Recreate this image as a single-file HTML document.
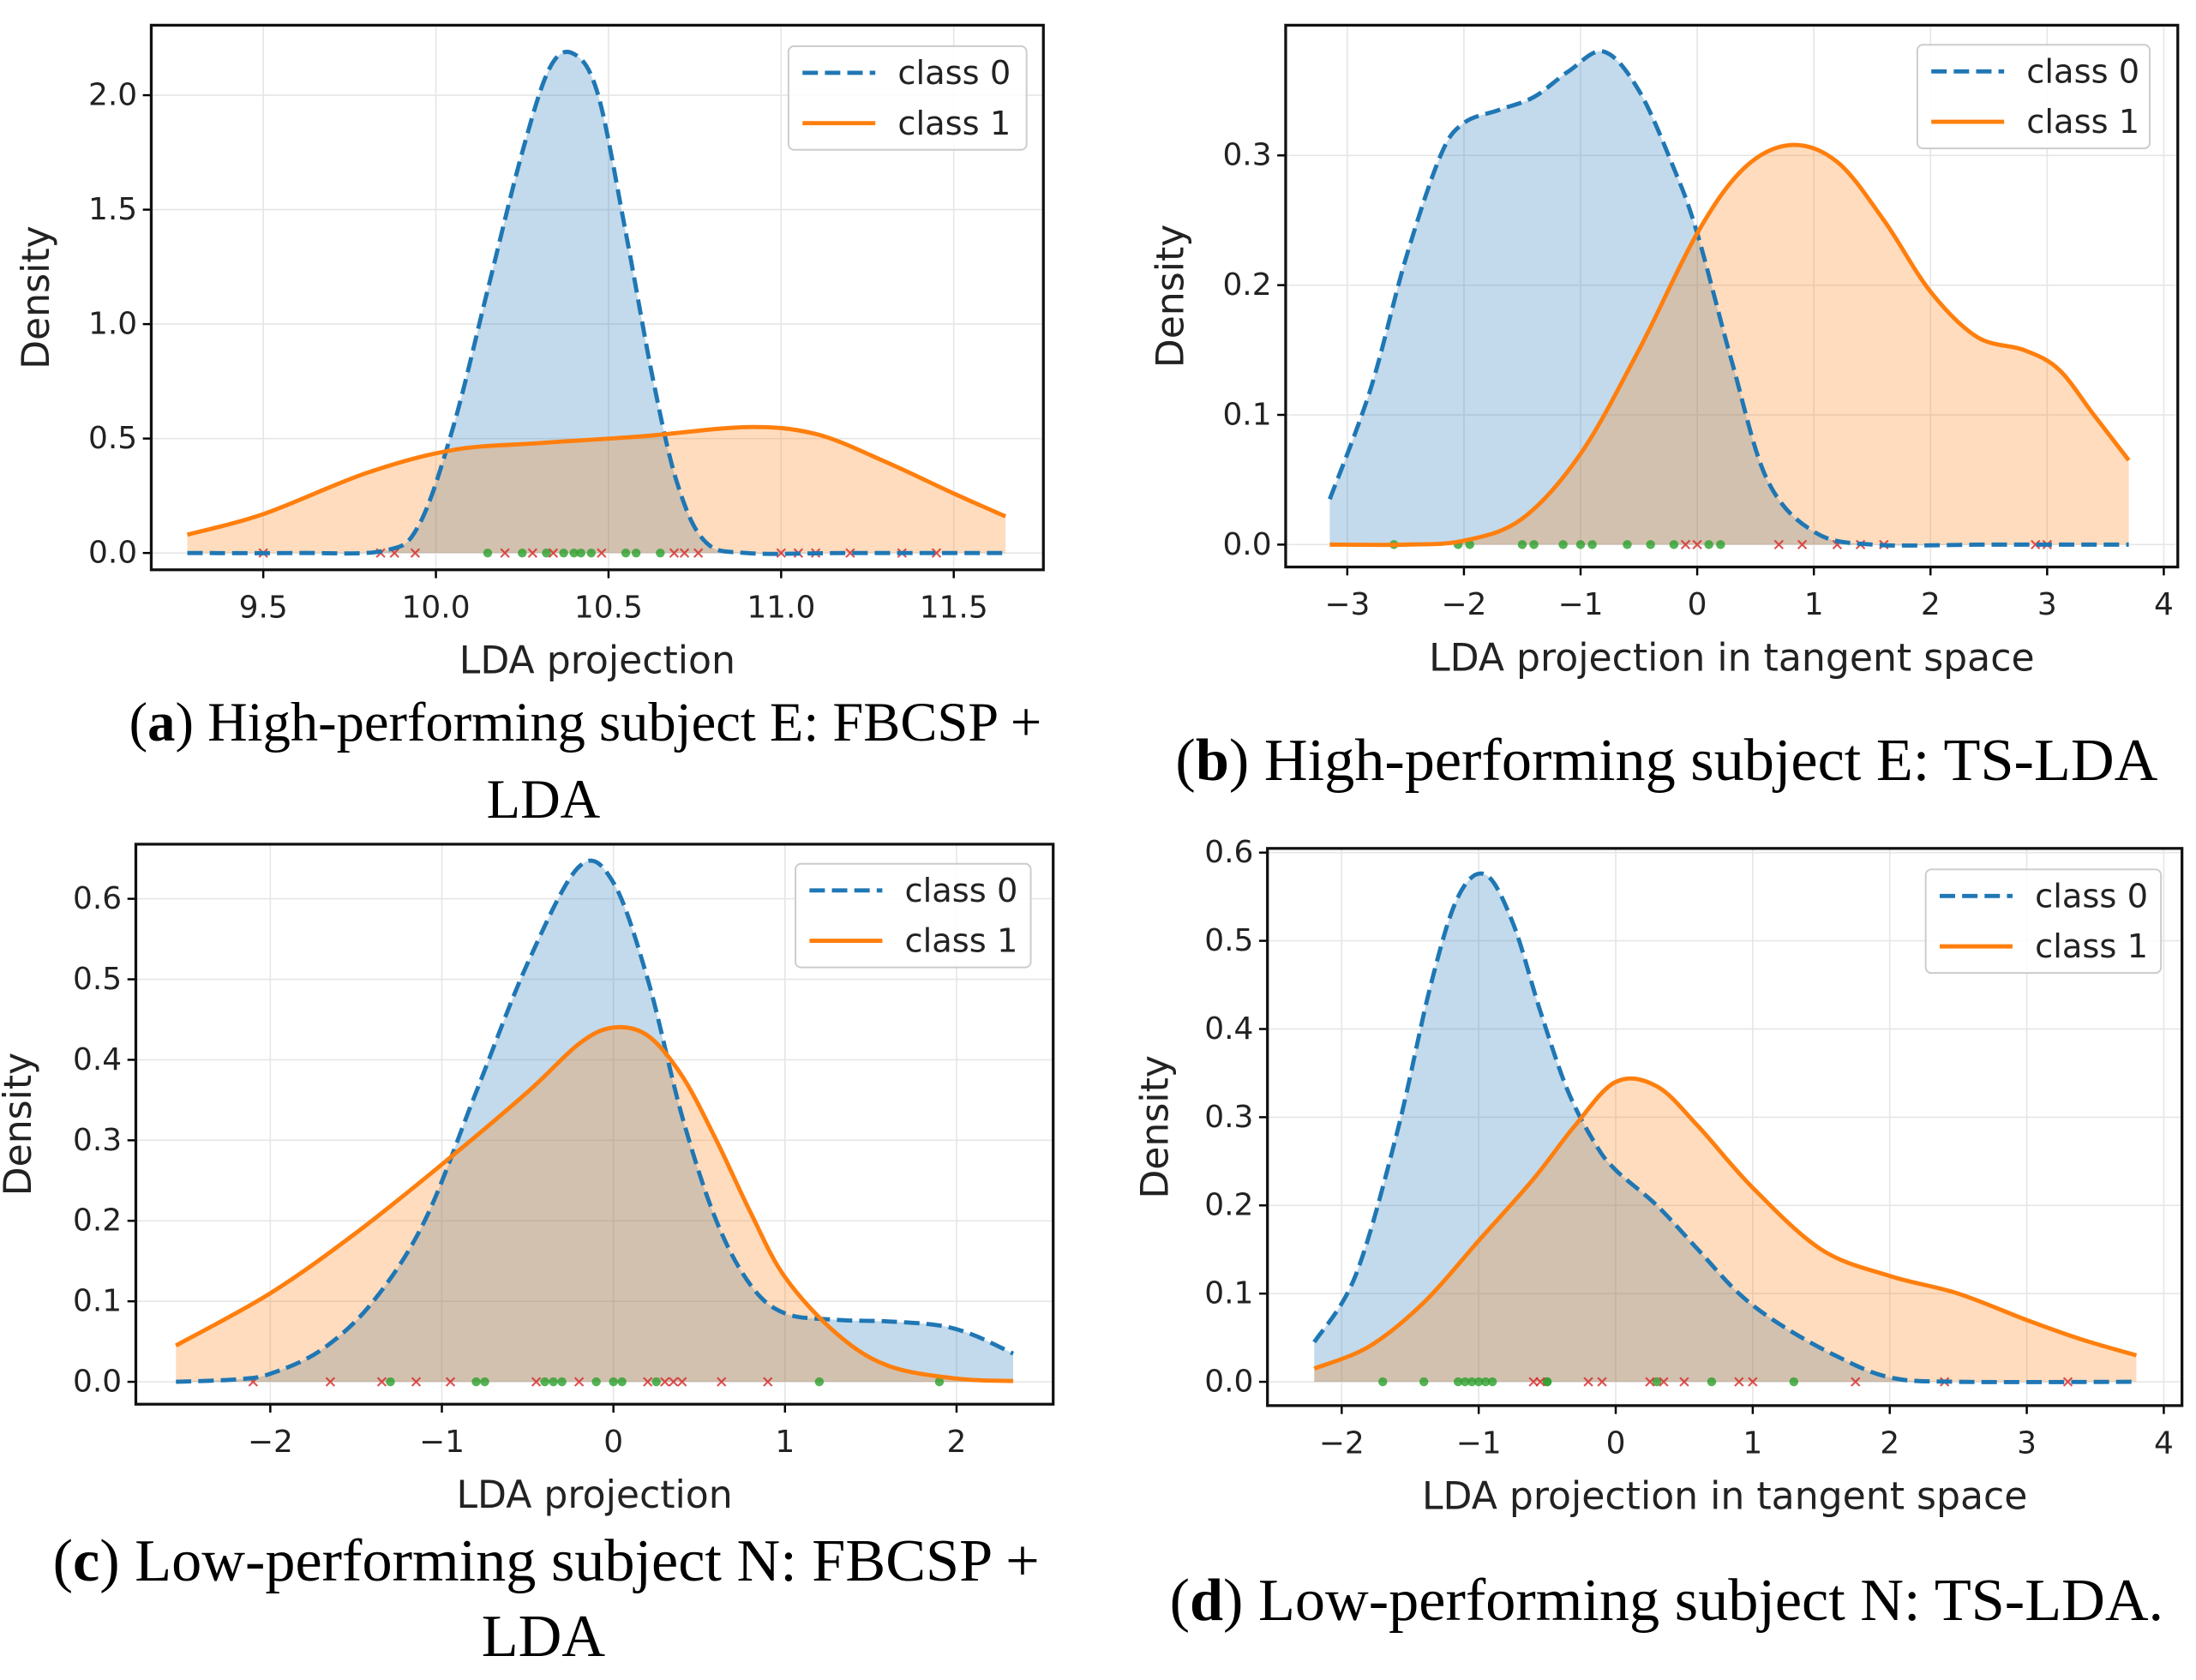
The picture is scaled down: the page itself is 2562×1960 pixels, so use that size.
<!DOCTYPE html>
<html><head><meta charset="utf-8"><style>
html,body{margin:0;padding:0;background:#fff;}
svg{display:block;}
text{font-family:"DejaVu Sans","Liberation Sans",sans-serif;fill:#222;}
.cap{font-family:"Liberation Serif",serif;font-size:39.5px;fill:#000;}
.capw{font-size:43px;}
</style></head><body>
<svg id="fig" width="2562" height="1960" viewBox="0 0 1568 1200" preserveAspectRatio="none" xmlns="http://www.w3.org/2000/svg">
<text class="cap" x="418" y="529" text-anchor="middle">(<tspan font-weight="bold">a</tspan>) High-performing subject E: FBCSP +</text>
<text class="cap" x="388" y="584" text-anchor="middle">LDA</text>
<text class="cap capw" x="1190" y="557" text-anchor="middle">(<tspan font-weight="bold">b</tspan>) High-performing subject E: TS-LDA</text>
<text class="cap capw" x="390" y="1129" text-anchor="middle">(<tspan font-weight="bold">c</tspan>) Low-performing subject N: FBCSP +</text>
<text class="cap capw" x="388" y="1183" text-anchor="middle">LDA</text>
<text class="cap capw" x="1190" y="1157" text-anchor="middle">(<tspan font-weight="bold">d</tspan>) Low-performing subject N: TS-LDA.</text>
</svg>
<script>
// Panel A data
const aX0=[9.28,9.6,9.85,9.95,10.05,10.15,10.25,10.33,10.4,10.47,10.55,10.63,10.7,10.78,10.9,11.2,11.65];
const aY0=[0,0,0.01,0.12,0.55,1.15,1.75,2.12,2.18,2.0,1.4,0.75,0.3,0.05,0,0,0];
const aX1=[9.28,9.5,9.8,10.05,10.3,10.6,10.9,11.1,11.3,11.5,11.65];
const aY1=[0.08,0.17,0.35,0.45,0.48,0.51,0.55,0.52,0.4,0.26,0.16];
const aGreen=[10.15,10.25,10.32,10.37,10.4,10.42,10.45,10.55,10.58,10.65];
const aRed=[9.5,9.84,9.88,9.94,10.2,10.28,10.34,10.48,10.69,10.72,10.76,11.0,11.05,11.1,11.2,11.35,11.45];
const aXT=[9.5,10.0,10.5,11.0,11.5], aXL=["9.5","10.0","10.5","11.0","11.5"];
const aYT=[0,0.5,1,1.5,2], aYL=["0.0","0.5","1.0","1.5","2.0"];
// Panel B data
const bX0=[-3.15,-2.8,-2.5,-2.2,-2,-1.7,-1.4,-1.1,-0.8,-0.5,-0.2,0,0.3,0.6,1,1.5,2.5,3.7];
const bY0=[0.035,0.12,0.22,0.3,0.325,0.335,0.345,0.365,0.38,0.35,0.29,0.24,0.14,0.05,0.01,0,0,0];
const bX1=[-3.15,-2.5,-2,-1.5,-1,-0.5,0,0.4,0.8,1.2,1.6,2,2.4,2.8,3.1,3.4,3.7];
const bY1=[0,0,0.003,0.02,0.07,0.15,0.24,0.29,0.308,0.295,0.25,0.195,0.16,0.15,0.135,0.1,0.065];
const bGreen=[-2.6,-2.05,-1.95,-1.5,-1.4,-1.15,-1.0,-0.9,-0.6,-0.4,-0.2,0.1,0.2];
const bRed=[-0.1,0,0.7,0.9,1.2,1.4,1.6,2.9,3.0];
const bXT=[-3,-2,-1,0,1,2,3,4], bXL=["\u22123","\u22122","\u22121","0","1","2","3","4"];
const bYT=[0,0.1,0.2,0.3], bYL=["0.0","0.1","0.2","0.3"];
// Panel C data
const cX0=[-2.55,-2.2,-2,-1.7,-1.4,-1.1,-0.8,-0.5,-0.2,0,0.2,0.4,0.6,0.8,1,1.3,1.6,1.9,2.1,2.33];
const cY0=[0,0.003,0.01,0.04,0.1,0.2,0.36,0.52,0.64,0.62,0.5,0.33,0.2,0.12,0.085,0.077,0.075,0.07,0.058,0.035];
const cX1=[-2.55,-2,-1.5,-1,-0.5,-0.2,0,0.2,0.4,0.6,0.8,1,1.3,1.6,2,2.33];
const cY1=[0.045,0.11,0.185,0.27,0.36,0.42,0.44,0.43,0.38,0.3,0.21,0.13,0.06,0.02,0.004,0.001];
const cGreen=[-1.3,-0.8,-0.75,-0.4,-0.35,-0.3,-0.1,0,0.05,0.25,1.2,1.9];
const cRed=[-2.1,-1.65,-1.35,-1.15,-0.95,-0.45,-0.2,0.2,0.3,0.35,0.4,0.63,0.9];
const cXT=[-2,-1,0,1,2], cXL=["\u22122","\u22121","0","1","2"];
const cYT=[0,0.1,0.2,0.3,0.4,0.5,0.6], cYL=["0.0","0.1","0.2","0.3","0.4","0.5","0.6"];
// Panel D data
const dX0=[-2.2,-1.9,-1.6,-1.35,-1.15,-0.95,-0.75,-0.55,-0.35,-0.15,0,0.3,0.6,0.9,1.2,1.6,2,2.5,3.8];
const dY0=[0.045,0.12,0.28,0.45,0.55,0.575,0.52,0.42,0.33,0.27,0.24,0.2,0.15,0.1,0.065,0.03,0.005,0,0];
const dX1=[-2.2,-1.8,-1.4,-1,-0.6,-0.3,0,0.3,0.6,1,1.5,2,2.5,3,3.4,3.8];
const dY1=[0.015,0.04,0.09,0.16,0.23,0.29,0.34,0.335,0.29,0.22,0.15,0.12,0.1,0.07,0.048,0.03];
const dGreen=[-1.7,-1.4,-1.15,-1.1,-1.05,-1.0,-0.95,-0.9,-0.5,-0.5,0.3,0.7,1.3];
const dRed=[-0.6,-0.55,-0.2,-0.1,0.25,0.35,0.5,0.9,1.0,1.75,2.4,3.3];
const dXT=[-2,-1,0,1,2,3,4], dXL=["\u22122","\u22121","0","1","2","3","4"];
const dYT=[0,0.1,0.2,0.3,0.4,0.5,0.6], dYL=["0.0","0.1","0.2","0.3","0.4","0.5","0.6"];

const NS="http://www.w3.org/2000/svg";
const svg=document.getElementById('fig');
function mk(tag,attrs,parent){const e=document.createElementNS(NS,tag);for(const k in attrs)e.setAttribute(k,attrs[k]);(parent||svg).appendChild(e);return e;}
function smooth(pts){let d="M"+pts[0][0]+","+pts[0][1];for(let i=0;i<pts.length-1;i++){const p0=pts[Math.max(i-1,0)],p1=pts[i],p2=pts[i+1],p3=pts[Math.min(i+2,pts.length-1)];
const c1x=p1[0]+(p2[0]-p0[0])/6,c1y=p1[1]+(p2[1]-p0[1])/6,c2x=p2[0]-(p3[0]-p1[0])/6,c2y=p2[1]-(p3[1]-p1[1])/6;d+=" C"+c1x+","+c1y+" "+c2x+","+c2y+" "+p2[0]+","+p2[1];}return d;}

function panel(id,box,xd,xr,yd,yr,X0,Y0,X1,Y1,G,R,XT,XL,YT,YL,xlabel,leg,ylabX){
  const sx=v=>xr[0]+(v-xd[0])/(xd[1]-xd[0])*(xr[1]-xr[0]);
  const sy=v=>yr[0]+(v-yd[0])/(yd[1]-yd[0])*(yr[1]-yr[0]);
  const g=mk('g',{});
  
  
  XT.forEach((t,i)=>{
    const l=mk('line',{x1:sx(t),x2:sx(t),y1:box[1],y2:box[3],stroke:'#e6e6e6','stroke-width':1},g);
    
    mk('line',{x1:sx(t),x2:sx(t),y1:box[3],y2:box[3]+6,stroke:'#000','stroke-width':1.5},g);
    const tx=mk('text',{x:sx(t),y:box[3]+34,'text-anchor':'middle','font-size':22},g);tx.textContent=XL[i];
    
  });
  YT.forEach((t,i)=>{
    const l=mk('line',{x1:box[0],x2:box[2],y1:sy(t),y2:sy(t),stroke:'#e6e6e6','stroke-width':1},g);
    
    mk('line',{x1:box[0]-6,x2:box[0],y1:sy(t),y2:sy(t),stroke:'#000','stroke-width':1.5},g);
    const tx=mk('text',{x:box[0]-10,y:sy(t)+7,'text-anchor':'end','font-size':22},g);tx.textContent=YL[i];
    
  });
  const p0=X0.map((x,i)=>[sx(x),sy(Y0[i])]), p1=X1.map((x,i)=>[sx(x),sy(Y1[i])]);
  const f0=mk('path',{d:smooth(p0)+" L"+sx(X0[X0.length-1])+","+sy(0)+" L"+sx(X0[0])+","+sy(0)+"Z",fill:'#1f77b4','fill-opacity':0.27},g);
  
  const f1=mk('path',{d:smooth(p1)+" L"+sx(X1[X1.length-1])+","+sy(0)+" L"+sx(X1[0])+","+sy(0)+"Z",fill:'#ff7f0e','fill-opacity':0.27},g);
  
  G.forEach(v=>{const c=mk('circle',{cx:sx(v),cy:sy(0),r:3.2,fill:'#2ca02c','fill-opacity':0.8},g);
    });
  R.forEach(v=>{const x=sx(v),y=sy(0);const c=mk('path',{d:`M${x-3},${y-3}L${x+3},${y+3}M${x-3},${y+3}L${x+3},${y-3}`,stroke:'#d62728','stroke-width':1.3,'stroke-opacity':0.8},g);
    });
  const l0=mk('path',{d:smooth(p0),fill:'none',stroke:'#1f77b4','stroke-width':3,'stroke-dasharray':'11,5'},g);
  
  const l1=mk('path',{d:smooth(p1),fill:'none',stroke:'#ff7f0e','stroke-width':3},g);
  
  const fr=mk('rect',{x:box[0],y:box[1],width:box[2]-box[0],height:box[3]-box[1],fill:'none',stroke:'#111','stroke-width':2},g);
  
  const xl=mk('text',{x:(box[0]+box[2])/2,y:box[3]+74,'text-anchor':'middle','font-size':27},g);xl.textContent=xlabel;
  
  const yc=(box[1]+box[3])/2;
  const yl=mk('text',{x:ylabX,y:yc,'text-anchor':'middle','font-size':27,transform:`rotate(-90 ${ylabX} ${yc})`},g);yl.textContent='Density';
  
  const lg=mk('g',{},g);
  mk('rect',{x:leg[0],y:leg[1],width:leg[2],height:74,rx:4,fill:'#fff','fill-opacity':0.85,stroke:'#ccc','stroke-width':1.2},lg);
  mk('line',{x1:leg[0]+10,x2:leg[0]+62,y1:leg[1]+19,y2:leg[1]+19,stroke:'#1f77b4','stroke-width':3,'stroke-dasharray':'11,5'},lg);
  mk('line',{x1:leg[0]+10,x2:leg[0]+62,y1:leg[1]+55,y2:leg[1]+55,stroke:'#ff7f0e','stroke-width':3},lg);
  const t0=mk('text',{x:leg[0]+78,y:leg[1]+27,'font-size':23.5},lg);t0.textContent='class 0';
  
  const t1=mk('text',{x:leg[0]+78,y:leg[1]+63,'font-size':23.5},lg);t1.textContent='class 1';
  
}
panel('panel-a',[108,18,745,407],[9.5,11.5],[188,681],[0,2],[395,68],aX0,aY0,aX1,aY1,aGreen,aRed,aXT,aXL,aYT,aYL,'LDA projection',[563,33,170],35);
panel('panel-b',[918,18,1555,405],[-3,4],[962,1545],[0,0.3],[389,111],bX0,bY0,bX1,bY1,bGreen,bRed,bXT,bXL,bYT,bYL,'LDA projection in tangent space',[1369,32,166],845);
panel('panel-c',[97,603,752,1003],[-2,2],[193,683],[0,0.6],[987,642],cX0,cY0,cX1,cY1,cGreen,cRed,cXT,cXL,cYT,cYL,'LDA projection',[568,617,168],22);
panel('panel-d',[905,606,1558,1004],[-2,4],[958,1545],[0,0.6],[987,609],dX0,dY0,dX1,dY1,dGreen,dRed,dXT,dXL,dYT,dYL,'LDA projection in tangent space',[1375,621,168],834);
</script>
</body></html>
